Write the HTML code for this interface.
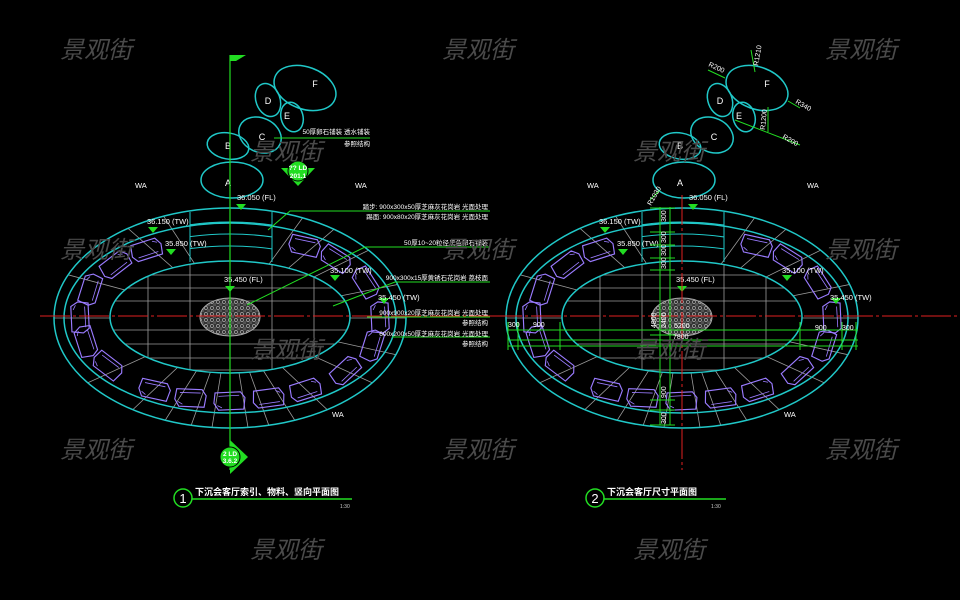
<!DOCTYPE html>
<html><head><meta charset="utf-8"><style>
html,body{margin:0;padding:0;background:#000;}
svg{display:block;}
text{font-family:"Liberation Sans","Noto Sans CJK SC",sans-serif;}
</style></head><body>
<svg width="960" height="600" viewBox="0 0 960 600" xmlns="http://www.w3.org/2000/svg">
<defs>
<clipPath id="inner"><ellipse cx="230" cy="317" rx="120" ry="56"/></clipPath>
<clipPath id="stair"><rect x="190" y="200" width="82" height="62"/></clipPath>
<clipPath id="ring"><path d="M54,318 a176,110 0 1,0 352,0 a176,110 0 1,0 -352,0 Z M110,317 a120,56 0 1,1 240,0 a120,56 0 1,1 -240,0 Z" clip-rule="evenodd"/></clipPath>
<pattern id="peb" width="6" height="6" patternUnits="userSpaceOnUse"><rect width="6" height="6" fill="#333"/><circle cx="2" cy="2" r="1.6" fill="none" stroke="#bbb" stroke-width="0.6"/><circle cx="5" cy="5" r="1.2" fill="none" stroke="#999" stroke-width="0.5"/></pattern>
<g id="chair"><g transform="scale(1.15)"><path d="M-13,-7 L9,-8 L13,-3 L12,7 L-10,8 L-14,2 Z" fill="none" stroke="#9a7bff" stroke-width="1"/><path d="M-10,-4 L8,-5 M-11,4 L-7,6" stroke="#9a7bff" stroke-width="0.7" fill="none"/></g></g>
<g id="plan">
 <g fill="none" stroke="#20c8c8" stroke-width="1.5">
  <ellipse cx="305" cy="88" rx="32" ry="21" transform="rotate(20 305 88)"/>
  <ellipse cx="268" cy="100" rx="12" ry="17" transform="rotate(-20 268 100)"/>
  <ellipse cx="292" cy="117" rx="11" ry="15" transform="rotate(-15 292 117)"/>
  <ellipse cx="260" cy="135" rx="22" ry="17" transform="rotate(25 260 135)"/>
  <ellipse cx="228" cy="146" rx="21" ry="13" transform="rotate(10 228 146)"/>
  <ellipse cx="232" cy="180" rx="31" ry="18"/>
 </g>
 <g fill="#fff" font-size="9" text-anchor="middle">
  <text x="315" y="87">F</text><text x="268" y="104">D</text><text x="287" y="119">E</text><text x="262" y="140">C</text><text x="228" y="149">B</text><text x="228" y="186">A</text>
 </g>
 <g clip-path="url(#ring)" stroke="#9a9a9a" stroke-width="0.8">
  <path d="M230,318 L420,318 M230,318 L420,360 M230,318 L410,400 M230,318 L370,450 M230,318 L320,460 M230,318 L285,470 M230,318 L255,470 M230,318 L205,470 M230,318 L175,470 M230,318 L140,460 M230,318 L90,450 M230,318 L50,400 M230,318 L40,318 M230,318 L50,270 M230,318 L90,195 M230,318 L140,180 M230,318 L330,180 M230,318 L380,190 M230,318 L410,230 M230,318 L420,280"/>
 </g>
 <g clip-path="url(#inner)" stroke="#9a9a9a" stroke-width="0.8">
  <path d="M100,275 H360 M100,288 H360 M100,301 H360 M100,330 H360 M100,344 H360 M100,358 H360 M100,370 H360"/>
  <path d="M148,255 V380 M190,255 V380 M272,255 V380 M314,255 V380"/>
 </g>
 <g clip-path="url(#stair)" fill="none" stroke="#20c8c8" stroke-width="1">
  <ellipse cx="230" cy="318" rx="168" ry="96"/>
  <ellipse cx="230" cy="318" rx="160" ry="84"/>
  <ellipse cx="230" cy="318" rx="150" ry="72"/>
 </g>
 <path d="M190,212 V262 M272,212 V262" stroke="#20c8c8" stroke-width="1"/>
 <g fill="none" stroke="#20c8c8" stroke-width="1.5">
  <ellipse cx="230" cy="318" rx="176" ry="110"/>
  <ellipse cx="230" cy="318" rx="166" ry="95"/>
  <ellipse cx="230" cy="317" rx="120" ry="56"/>
 </g>
 <ellipse cx="230" cy="317" rx="30" ry="19" fill="url(#peb)" stroke="#aaa" stroke-width="1"/>
 <use href="#chair" transform="translate(80,318) rotate(90)"/>
 <use href="#chair" transform="translate(86,342) rotate(75)"/>
 <use href="#chair" transform="translate(90,290) rotate(110)"/>
 <use href="#chair" transform="translate(115,265) rotate(145)"/>
 <use href="#chair" transform="translate(146,250) rotate(165)"/>
 <use href="#chair" transform="translate(305,246) rotate(15)"/>
 <use href="#chair" transform="translate(336,259) rotate(35)"/>
 <use href="#chair" transform="translate(366,283) rotate(60)"/>
 <use href="#chair" transform="translate(380,318) rotate(90)"/>
 <use href="#chair" transform="translate(372,346) rotate(110)"/>
 <use href="#chair" transform="translate(345,371) rotate(140)"/>
 <use href="#chair" transform="translate(305,390) rotate(165)"/>
 <use href="#chair" transform="translate(268,398) rotate(175)"/>
 <use href="#chair" transform="translate(230,401)"/>
 <use href="#chair" transform="translate(191,398) rotate(5)"/>
 <use href="#chair" transform="translate(155,390) rotate(15)"/>
 <use href="#chair" transform="translate(108,366) rotate(40)"/>
 <path d="M40,316 H505" stroke="#e02020" stroke-width="1" stroke-dasharray="30,3,3,3"/>
 <g fill="#22dd22">
  <path d="M236,204 h10 l-5,6 z"/><path d="M148,227 h10 l-5,6 z"/><path d="M166,249 h10 l-5,6 z"/>
  <path d="M225,286 h10 l-5,6 z"/><path d="M330,275 h10 l-5,6 z"/><path d="M379,298 h10 l-5,6 z"/>
 </g>
 <g fill="#fff" font-size="7.5">
  <text x="237" y="200">36.050 (FL)</text><text x="147" y="224">36.150 (TW)</text><text x="165" y="246">35.850 (TW)</text>
  <text x="224" y="282">35.450 (FL)</text><text x="330" y="273">35.100 (TW)</text><text x="378" y="300">35.450 (TW)</text>
  <text x="135" y="188">WA</text><text x="355" y="188">WA</text><text x="332" y="417">WA</text>
 </g>
</g>
</defs>

<use href="#plan"/>
<path d="M230,55 V470" stroke="#22dd22" stroke-width="1.2"/>
<path d="M230,55 L246,55 L236,61 L230,61 Z" fill="#22dd22"/>
<path d="M281,168 h34 l-17,18 z" fill="#22dd22"/>
<circle cx="298" cy="171" r="10" fill="#22dd22" stroke="#000"/>
<text x="298" y="170" font-size="6.5" fill="#fff" text-anchor="middle" font-weight="bold">?? LD</text>
<text x="298" y="178" font-size="6.5" fill="#fff" text-anchor="middle" font-weight="bold">201.1</text>
<path d="M230,440 L248,457 L230,474 Z" fill="#22dd22"/>
<circle cx="230" cy="457" r="10" fill="#22dd22" stroke="#000"/>
<text x="230" y="456" font-size="6.5" fill="#fff" text-anchor="middle" font-weight="bold">2 LD</text>
<text x="230" y="463" font-size="6.5" fill="#fff" text-anchor="middle" font-weight="bold">3.6.2</text>
<g stroke="#22dd22" stroke-width="1" fill="none">
 <path d="M274,138 H370"/>
 <path d="M268,230 L290,211 H490"/>
 <path d="M247,305 L365,247 H490"/>
 <path d="M333,306 L395,282 H490"/>
 <path d="M367,317 H490"/>
 <path d="M392,337 H490"/>
</g>
<g fill="#fff" font-size="6.5" text-anchor="end">
 <text x="370" y="134">50厚卵石铺装 透水铺装</text><text x="370" y="146">参照结构</text>
 <text x="488" y="209">踏步: 900x300x50厚芝麻灰花岗岩 光面处理</text><text x="488" y="219">踢面: 900x80x20厚芝麻灰花岗岩 光面处理</text>
 <text x="488" y="245">50厚10~20粒径黑色卵石铺装</text>
 <text x="488" y="280">900x300x15厚黄锈石花岗岩 荔枝面</text>
 <text x="488" y="315">900x900x20厚芝麻灰花岗岩 光面处理</text><text x="488" y="325">参照结构</text>
 <text x="488" y="336">600x200x50厚芝麻灰花岗岩 光面处理</text><text x="488" y="346">参照结构</text>
</g>
<use href="#plan" transform="translate(452,0)"/>
<path d="M682,195 V470" stroke="#e02020" stroke-width="1" stroke-dasharray="30,3,3,3"/>
<g stroke="#22dd22" stroke-width="1" fill="none">
 <path d="M660,207 V425 M670,207 V425 M650,335 H675"/>
 <path d="M508,330 H858 M508,340 H858 M508,346 H858"/>
 <path d="M508,322 V350 M518,322 V350 M560,322 V350 M800,322 V350 M842,322 V350 M856,322 V350"/>
 <path d="M650,208 H675 M650,232 H675 M650,245 H675 M650,258 H675 M650,270 H675 M650,400 H675 M650,410 H675 M650,425 H675"/>
 <path d="M751,50 L755,72 M708,70 L725,78 M788,101 L800,108 M768,107 V132 M735,120 L800,145 M650,200 L660,190"/>
</g>
<g fill="#fff" font-size="7">
 <text transform="translate(666,222) rotate(-90)">300</text>
 <text transform="translate(666,243) rotate(-90)">300</text>
 <text transform="translate(666,256) rotate(-90)">300</text>
 <text transform="translate(666,269) rotate(-90)">300</text>
 <text transform="translate(656,328) rotate(-90)">4800</text>
 <text transform="translate(666,328) rotate(-90)">2400</text>
 <text transform="translate(666,398) rotate(-90)">900</text>
 <text transform="translate(666,424) rotate(-90)">300</text>
 <text x="508" y="327">300</text><text x="533" y="327">900</text><text x="674" y="328">5200</text><text x="673" y="339">7800</text>
 <text x="815" y="330">900</text><text x="842" y="330">300</text>
 <text transform="translate(758,66) rotate(-80)">R1210</text>
 <text transform="translate(708,66) rotate(25)">R200</text>
 <text transform="translate(795,103) rotate(30)">R340</text>
 <text transform="translate(765,130) rotate(-85)">R1200</text>
 <text transform="translate(782,138) rotate(30)">R200</text>
 <text transform="translate(651,206) rotate(-60)">R1030</text>
</g>
<circle cx="183" cy="498" r="9" fill="none" stroke="#22dd22" stroke-width="1.5"/>
<text x="183" y="503" font-size="13" fill="#fff" text-anchor="middle">1</text>
<path d="M192,499 H352" stroke="#22dd22" stroke-width="1.5"/>
<text x="195" y="495" font-size="9" fill="#fff" font-weight="bold">下沉会客厅索引、物料、竖向平面图</text>
<text x="340" y="508" font-size="5" fill="#ccc">1:30</text>
<circle cx="595" cy="498" r="9" fill="none" stroke="#22dd22" stroke-width="1.5"/>
<text x="595" y="503" font-size="13" fill="#fff" text-anchor="middle">2</text>
<path d="M604,499 H726" stroke="#22dd22" stroke-width="1.5"/>
<text x="607" y="495" font-size="9" fill="#fff" font-weight="bold">下沉会客厅尺寸平面图</text>
<text x="711" y="508" font-size="5" fill="#ccc">1:30</text>
<g fill="#4a4a4a" font-size="24" font-style="italic" font-family="'Noto Sans CJK SC',sans-serif">
 <text x="60" y="58">景观街</text><text x="442" y="58">景观街</text><text x="825" y="58">景观街</text>
 <text x="250" y="160">景观街</text><text x="633" y="160">景观街</text>
 <text x="60" y="258">景观街</text><text x="442" y="258">景观街</text><text x="825" y="258">景观街</text>
 <text x="250" y="358">景观街</text><text x="633" y="358">景观街</text>
 <text x="60" y="458">景观街</text><text x="442" y="458">景观街</text><text x="825" y="458">景观街</text>
 <text x="250" y="558">景观街</text><text x="633" y="558">景观街</text>
</g>
</svg>
</body></html>
